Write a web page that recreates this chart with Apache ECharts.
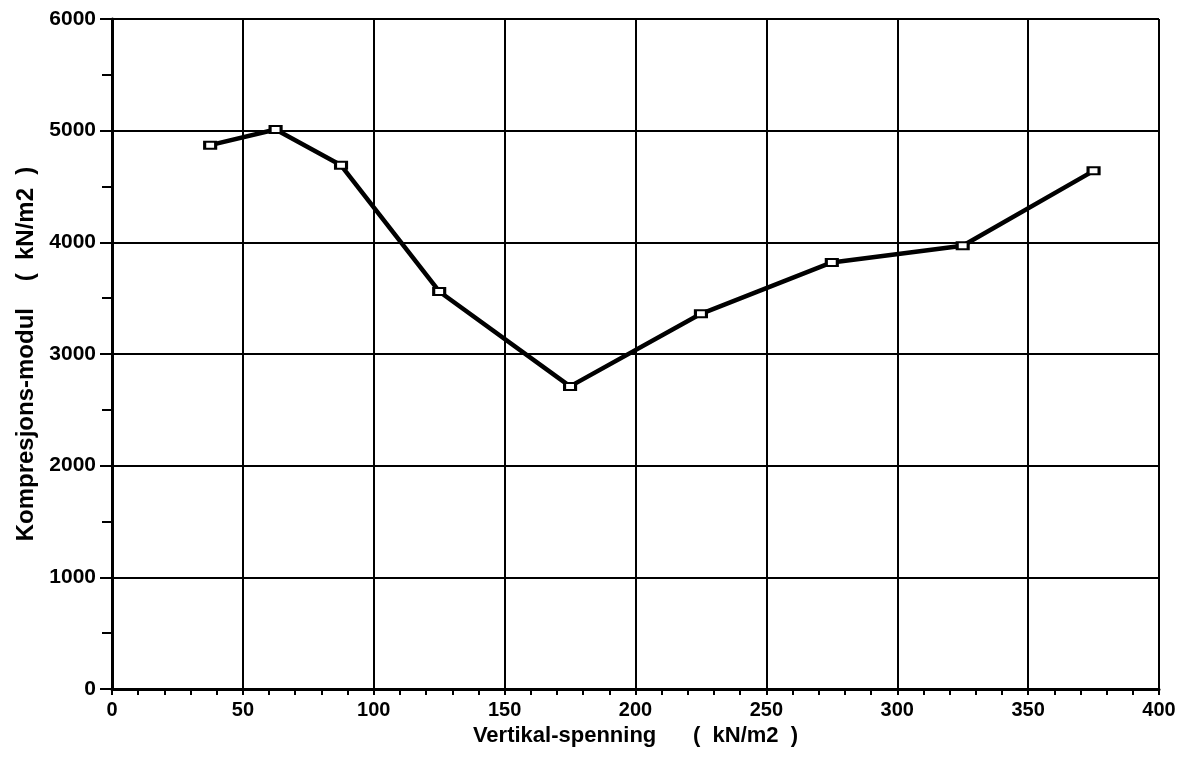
<!DOCTYPE html>
<html>
<head>
<meta charset="utf-8">
<script src="https://cdn.jsdelivr.net/npm/echarts@6/dist/echarts.min.js"></script>
<style>
  html, body { margin: 0; padding: 0; background: #fff; }
  #main { width: 1194px; height: 759px; }
</style>
</head>
<body>
<div id="main"></div>
<script>
// Vertical stress (kN/m2) and compression modulus (kN/m2)
const stress = [37.5, 62.5, 87.5, 125, 175, 225, 275, 325, 375];
const modulus = [4870, 5010, 4690, 3560, 2710, 3360, 3820, 3970, 4640];

const font = "Liberation Sans, Arial, sans-serif";
const ink = "#000";

const options = {
  animation: false,
  grid: { left: 112, right: 35, top: 19, bottom: 70 },
  xAxis: {
    type: "value",
    min: 0,
    max: 400,
    interval: 50,
    name: "Vertikal-spenning      (  kN/m2  )",
    nameLocation: "middle",
    nameGap: 32,
    nameTextStyle: { color: ink, fontFamily: font, fontWeight: "bold", fontSize: 22 },
    axisLine: { lineStyle: { color: ink, width: 3 } },
    axisTick: { show: true, length: 6, lineStyle: { color: ink, width: 2 } },
    minorTick: { show: true, splitNumber: 5, length: 6, lineStyle: { color: ink, width: 2 } },
    axisLabel: { color: ink, fontFamily: font, fontWeight: "bold", fontSize: 20, margin: 11 },
    splitLine: { show: true, lineStyle: { color: ink, width: 2 } }
  },
  yAxis: {
    type: "value",
    min: 0,
    max: 6000,
    interval: 1000,
    name: "Kompresjons-modul    (  kN/m2  )",
    nameLocation: "middle",
    nameGap: 72,
    nameTextStyle: { color: ink, fontFamily: font, fontWeight: "bold", fontSize: 24 },
    axisLine: { show: true, lineStyle: { color: ink, width: 3 } },
    axisTick: { show: true, length: 12, lineStyle: { color: ink, width: 2 } },
    minorTick: { show: true, splitNumber: 2, length: 10, lineStyle: { color: ink, width: 2 } },
    axisLabel: {
      color: ink, fontFamily: font, fontWeight: "bold", fontSize: 21, margin: 16,
      formatter: (v) => String(v)
    },
    splitLine: { show: true, lineStyle: { color: ink, width: 2 } }
  },
  series: [
    {
      type: "line",
      data: stress.map((x, i) => [x, modulus[i]]),
      symbol: "rect",
      symbolSize: [11, 7],
      lineStyle: { color: ink, width: 4.5 },
      itemStyle: { color: "#fff", borderColor: ink, borderWidth: 2.5 }
    }
  ]
};

var myChart = echarts.init(document.querySelector("#main"));
myChart.setOption(options);
</script>
</body>
</html>
